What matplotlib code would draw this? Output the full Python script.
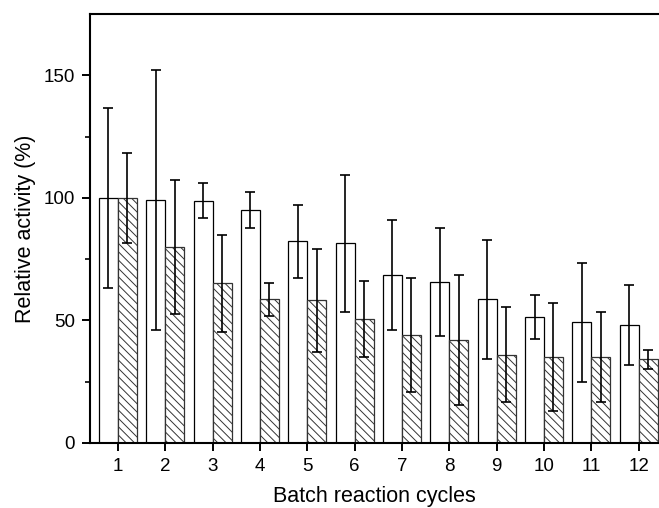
import numpy as np
import matplotlib
matplotlib.use("Agg")
import matplotlib.pyplot as plt

plt.rcParams['font.family'] = ['Liberation Sans', 'DejaVu Sans']
plt.rcParams['hatch.linewidth'] = 0.7

# Data
cycles = np.arange(1, 13)
white_vals = [100, 99.2, 98.9, 94.9, 82.2, 81.4, 68.6, 65.6, 58.6, 51.5, 49.2, 48.2]
white_err = [36.6, 53.0, 7.2, 7.3, 15.0, 28.0, 22.5, 22.0, 24.4, 9.0, 24.4, 16.3]
hatch_vals = [100, 79.9, 65.1, 58.6, 58.2, 50.5, 44.0, 41.9, 36.0, 35.1, 35.1, 34.1]
hatch_err = [18.5, 27.3, 19.8, 6.6, 21.0, 15.5, 23.2, 26.5, 19.4, 22.2, 18.2, 3.8]

fig = plt.figure(figsize=(6.59, 5.08), dpi=100)
ax = fig.add_axes([0.1366, 0.128, 0.8634, 0.8444])

w = 0.4
err_kw = dict(ecolor='black', elinewidth=1.2, capsize=3.5, capthick=1.2)
ax.bar(cycles - w / 2, white_vals, width=w, color='white', edgecolor='black',
       linewidth=0.9, yerr=white_err, error_kw=err_kw, zorder=2)
ax.bar(cycles + w / 2, hatch_vals, width=w, color='white', edgecolor='#333333',
       linewidth=0.9, hatch='\\\\\\\\', yerr=hatch_err, error_kw=err_kw, zorder=2)

ax.set_xlim(0.41, 12.43)
ax.set_ylim(0, 175)
ax.set_xticks(cycles)
ax.set_yticks([0, 50, 100, 150])
ax.set_yticks([25, 75, 125], minor=True)

for side in ['left', 'bottom', 'top']:
    ax.spines[side].set_linewidth(1.5)
ax.spines['right'].set_visible(False)

ax.tick_params(axis='both', which='major', direction='out', length=6, width=1.4,
               labelsize=13.5, pad=5)
ax.tick_params(axis='y', which='minor', direction='out', length=3.5, width=1.2)

ax.set_xlabel('Batch reaction cycles', fontsize=15.5, labelpad=8)
ax.set_ylabel('Relative activity (%)', fontsize=15.5, labelpad=5)

fig.savefig('out.png', dpi=100)
